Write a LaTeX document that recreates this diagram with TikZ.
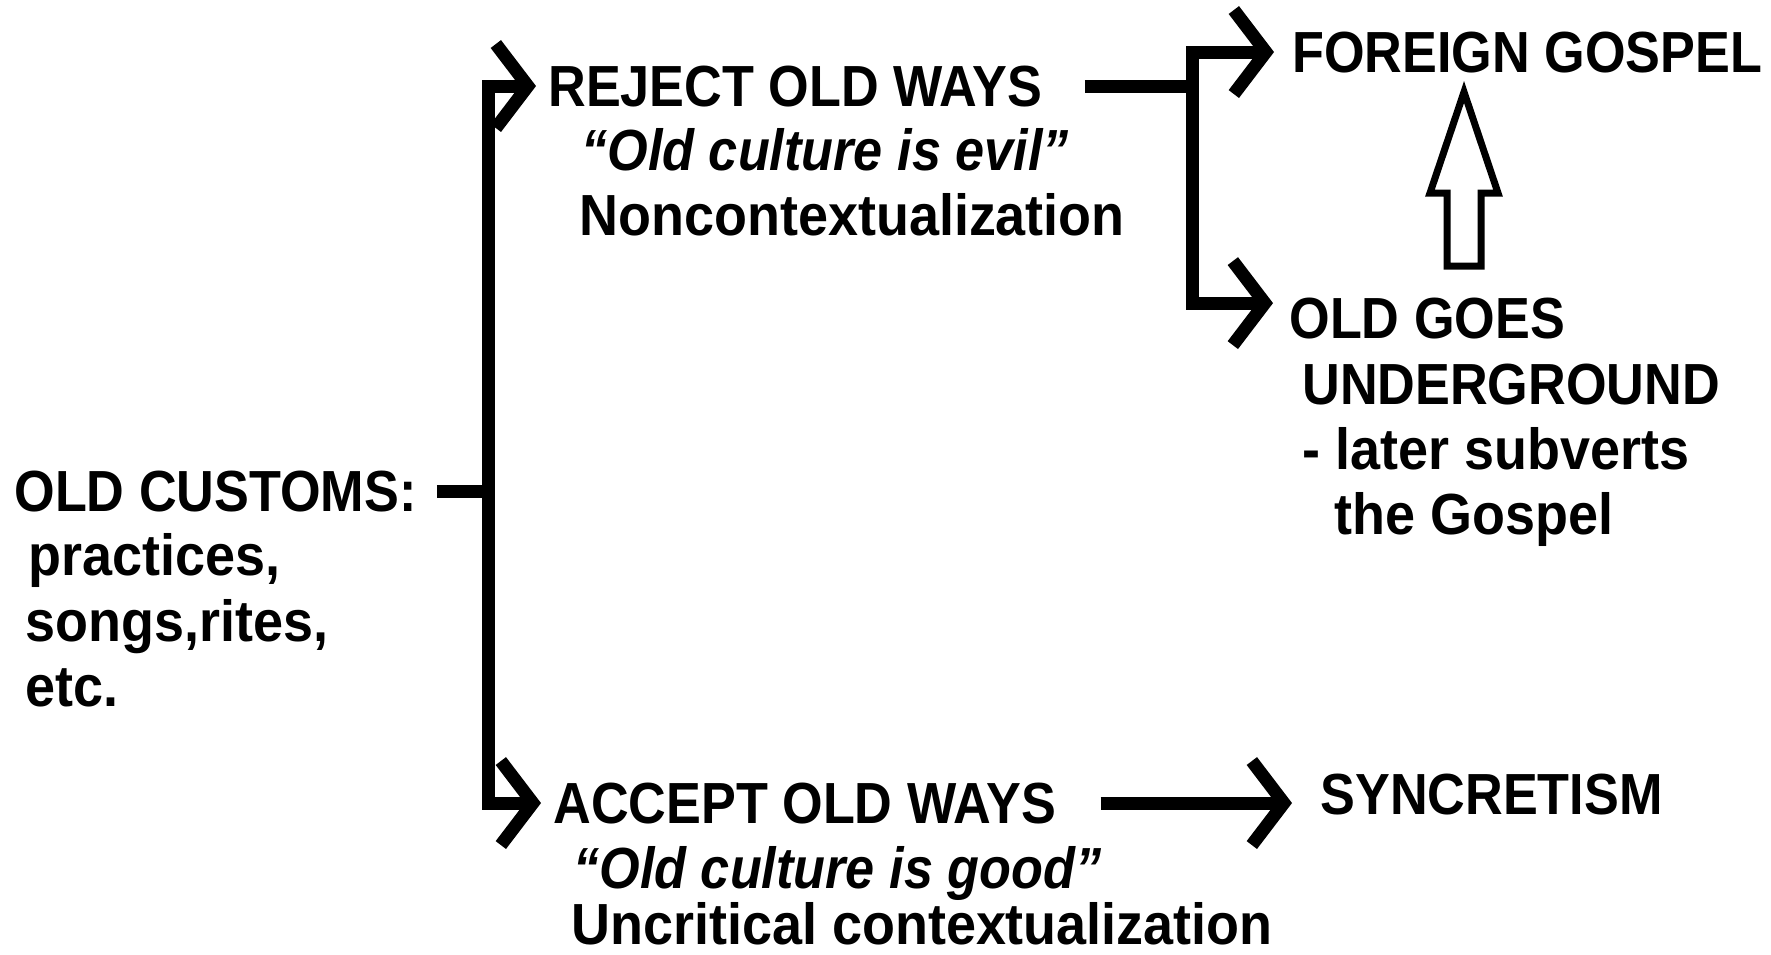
\documentclass[tikz,border=0pt]{standalone}
\usepackage{fontspec}
\setmainfont{Liberation Sans}[FakeStretch=0.9]
\newfontfamily\lowfont{Liberation Sans}[FakeStretch=0.93]
\usetikzlibrary{arrows.meta}
\begin{document}
\begin{tikzpicture}[x=0.5pt,y=-0.5pt,
  txt/.style={font=\bfseries\fontsize{29}{33}\selectfont, inner sep=0pt, anchor=base west},
  low/.style={txt, font=\lowfont\bfseries\fontsize{29}{33}\selectfont},
  quote/.style={txt, font=\bfseries\itshape\fontsize{29}{33}\selectfont},
  conn/.style={line width=6.5pt},
  arr/.style={conn, -{Straight Barb[length=16pt,width=42pt]}},
  hollow/.style={line width=3.5pt, line join=miter, fill=white}]
\useasboundingbox (0,0) rectangle (1771,954);

\node[txt] (cust) at (14,511) {OLD CUSTOMS:};
\node[low] (custa) at (28,575) {practices,};
\node[low] (custb) at (25,641) {songs,rites,};
\node[low] (custc) at (25,706) {etc.};

\node[txt] (rej) at (548,106) {REJECT OLD WAYS};
\node[quote] (reja) at (581,170) {“Old culture is evil”};
\node[low] (rejb) at (579,235) {Noncontextualization};

\node[txt] (acc) at (553,823) {ACCEPT OLD WAYS};
\node[quote] (acca) at (573,888) {“Old culture is good”};
\node[low] (accb) at (571,944) {Uncritical contextualization};

\node[txt] (fgo) at (1292,72) {FOREIGN GOSPEL};
\node[txt] (ogo) at (1289,338) {OLD GOES};
\node[txt] (ogoa) at (1302,404) {UNDERGROUND};
\node[low] (ogob) at (1302,469) {- later subverts};
\node[low] (ogoc) at (1334,534) {the Gospel};

\node[txt] (syn) at (1320,814) {SYNCRETISM};

\coordinate (trunk) at (488,494);
\coordinate (fork) at (1192,91);

\draw[conn, shorten <=10pt] (cust.east) -- (cust.east -| trunk);
\draw[arr, shorten >=6pt] (cust.east -| trunk) |- (rej.west);
\draw[arr, shorten >=6pt] (cust.east -| trunk) |- (acc.west);

\draw[conn, shorten <=21pt] (rej.east) -- (rej.east -| fork);
\draw[arr, shorten >=9pt] (rej.east -| fork) |- (fgo.west);
\draw[arr, shorten >=8pt] (rej.east -| fork) |- ([yshift=-3pt]ogo.north west);

\draw[arr, shorten <=22pt, shorten >=14pt] (acc.east) -- (acc.east -| syn.west);

\draw[hollow] (1447,266) -- (1447,193) -- (1430,193) -- (1464,92)
  -- (1498,193) -- (1481,193) -- (1481,266) -- cycle;

\end{tikzpicture}
\end{document}
